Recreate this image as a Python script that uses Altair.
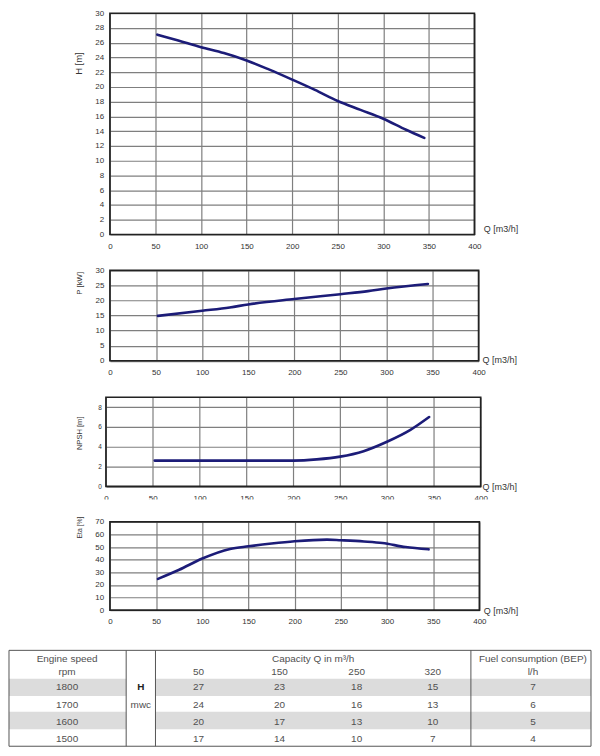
import altair as alt
import pandas as pd

# ---------------- data ----------------
Q_TICKS = [0, 50, 100, 150, 200, 250, 300, 350, 400]

H_Q = [52, 75, 100, 125, 150, 175, 200, 225, 250, 275, 300, 325, 345]
H_M = [27.1, 26.3, 25.4, 24.6, 23.6, 22.35, 21.0, 19.6, 18.1, 16.9, 15.7, 14.2, 13.1]

P_Q = [52, 100, 130, 150, 200, 250, 280, 300, 345]
P_KW = [14.9, 16.6, 17.7, 18.7, 20.5, 22.1, 23.1, 24.0, 25.5]

NPSH_Q = [52, 100, 150, 200, 225, 250, 275, 300, 325, 345]
NPSH_M = [2.6, 2.6, 2.6, 2.6, 2.72, 3.0, 3.55, 4.5, 5.7, 7.0]

ETA_Q = [52, 75, 100, 130, 150, 175, 200, 235, 250, 275, 295, 320, 345]
ETA_PCT = [24.8, 32.0, 40.9, 48.5, 50.6, 52.8, 54.6, 55.9, 55.4, 54.4, 53.2, 50.0, 48.2]

SPEEDS = [1800, 1700, 1600, 1500]
CAP_Q = [50, 150, 250, 320]
HEAD_MWC = [[27, 23, 18, 15], [24, 20, 16, 13], [20, 17, 13, 10], [17, 14, 10, 7]]
FUEL_LH = [7, 6, 5, 4]

# ---------------- styling / layout ----------------
W = 584
FONT = "Liberation Sans"
LINE_COLOR = "#1c1c78"
GRID = "#7f7f7f"
FRAME = "#222222"
TXT = "#333333"
LBL = 8

PANELS = [
    dict(q=H_Q, v=H_M, ymax=30, yticks=list(range(0, 31, 2)), title="H [m]",
         h=244, xr=[101.3, 467], yr=[226, 4], xlp=11.7, ylp=6.3, yls=LBL,
         ts=9.5, tx=-31.5, ty=54, qx=476, qy=-6, fill=False),
    dict(q=P_Q, v=P_KW, ymax=30, yticks=list(range(0, 31, 5)), title="P [kW]",
         h=132, xr=[101.3, 471.2], yr=[108.7, 18], xlp=11.8, ylp=6, yls=LBL,
         ts=7.8, tx=-30.3, ty=30.5, qx=474.7, qy=-1, fill=False),
    dict(q=NPSH_Q, v=NPSH_M, ymax=9, yticks=[0, 2, 4, 6, 8], title="NPSH [m]",
         h=116, xr=[97.3, 473.3], yr=[102.7, 13.3], xlp=12, ylp=4.6, yls=6.5,
         ts=7.6, tx=-26.3, ty=49, qx=474.7, qy=0, fill=False),
    dict(q=ETA_Q, v=ETA_PCT, ymax=70, yticks=list(range(0, 71, 10)), title="Eta [%]",
         h=140, xr=[101.3, 472], yr=[111, 22.3], xlp=11, ylp=6.4, yls=LBL,
         ts=6.8, tx=-30.5, ty=27.5, qx=476, qy=0.5, fill=True),
]


def curve_panel(c):
    df = pd.DataFrame({"Q": c["q"], "V": c["v"]})
    frame_df = pd.DataFrame({"x0": [0], "x1": [400], "y0": [0], "y1": [c["ymax"]]})
    xs = alt.Scale(domain=[0, 400], range=c["xr"], nice=False, zero=False)
    ys = alt.Scale(domain=[0, c["ymax"]], range=c["yr"], nice=False, zero=False)
    xoff = c["yr"][0] - c["h"]
    yoff = -c["xr"][0]
    # vertical grid lines (top-oriented axis, no labels)
    xgrid = alt.Axis(
        orient="top", values=Q_TICKS, grid=True, gridColor=GRID, gridWidth=1.2,
        domain=False, ticks=False, labels=False, title="",
    )
    # labelled bottom axis
    xaxis = alt.Axis(
        orient="bottom", values=Q_TICKS, grid=False, domain=False,
        ticks=False, tickSize=0, labelFlush=False, labelOverlap=False,
        labelPadding=c["xlp"], labelBaseline="middle", labelFont=FONT,
        labelFontSize=LBL, labelColor=TXT, offset=xoff,
        title="Q [m3/h]", titleX=c["qx"], titleY=c["qy"], titleAlign="left",
        titleBaseline="middle", titleAngle=0, titleFont=FONT, titleFontSize=9,
        titleFontWeight="normal", titleColor=TXT, titlePadding=0,
    )
    yaxis = alt.Axis(
        values=c["yticks"], grid=True, gridColor=GRID, gridWidth=1.2, domain=False,
        ticks=False, tickSize=0, labelFlush=False, labelOverlap=False,
        labelPadding=c["ylp"], labelAlign="right", labelBaseline="middle",
        labelFont=FONT, labelFontSize=c["yls"], labelColor=TXT, offset=yoff,
        title=c["title"], titleX=c["tx"], titleY=c["ty"], titleAngle=270,
        titleAlign="center", titleBaseline="middle", titleFont=FONT,
        titleFontSize=c["ts"], titleFontWeight="normal", titleColor=TXT,
        titlePadding=0,
    )
    frame = alt.Chart(frame_df).mark_rect(filled=False, stroke=FRAME, strokeWidth=1.7).encode(
        x=alt.X("x0:Q", scale=xs, axis=xgrid),
        x2="x1:Q",
        y=alt.Y("y0:Q", scale=ys, axis=yaxis),
        y2="y1:Q",
    )
    line = alt.Chart(df).mark_line(
        color=LINE_COLOR, strokeWidth=2.6, interpolate="monotone", strokeCap="round"
    ).encode(
        x=alt.X("Q:Q", scale=xs, axis=xaxis),
        y=alt.Y("V:Q", scale=ys, axis=yaxis),
    )
    props = dict(width=W, height=c["h"])
    if c["fill"]:
        props["view"] = alt.ViewBackground(fill="white", strokeWidth=0)
    return alt.layer(frame, line).resolve_axis(x="independent").properties(**props)


rows = [curve_panel(c) for c in PANELS]

# ---------------- table ----------------
T_TOP, T_BOT = 653.3, 755
COL_EDGES = [2, 122, 152, 475, 598]
RPM_X, UNIT_X, CAP_X, FUEL_X = 61.5, 137, 313.5, 538.5
Q_COL_X = [196, 279, 358, 436]
HEAD_Y1, HEAD_Y2 = 662.5, 676
ROW_Y = [692.5, 711, 729.5, 747]
GRAY_BANDS = [(683.3, 701.7), (718.5, 737)]

tx = alt.Scale(domain=[2, 598], range=[0, W], nice=False, zero=False)
ty = alt.Scale(domain=[653, 755], range=[11, 107.5], nice=False, zero=False)

band_recs = []
for (b0, b1) in GRAY_BANDS:
    band_recs.append({"x0": COL_EDGES[0], "x1": COL_EDGES[1], "y0": b0, "y1": b1})
    band_recs.append({"x0": COL_EDGES[2], "x1": COL_EDGES[4], "y0": b0, "y1": b1})
bands_df = pd.DataFrame(band_recs)
border_df = pd.DataFrame({"x0": [COL_EDGES[0]], "x1": [COL_EDGES[-1]], "y0": [T_TOP], "y1": [T_BOT]})
rules_df = pd.DataFrame({"x": COL_EDGES[1:4], "y0": [T_TOP] * 3, "y1": [T_BOT] * 3})

txt = []
txt += [{"x": RPM_X, "y": HEAD_Y1, "t": "Engine speed"}, {"x": RPM_X, "y": HEAD_Y2, "t": "rpm"}]
txt += [{"x": CAP_X, "y": HEAD_Y1, "t": "Capacity Q in m³/h"}]
txt += [{"x": Q_COL_X[j], "y": HEAD_Y2, "t": str(q)} for j, q in enumerate(CAP_Q)]
txt += [{"x": FUEL_X, "y": HEAD_Y1, "t": "Fuel consumption (BEP)"}, {"x": FUEL_X, "y": HEAD_Y2, "t": "l/h"}]
for i, s in enumerate(SPEEDS):
    txt.append({"x": RPM_X, "y": ROW_Y[i], "t": str(s)})
    for j, hv in enumerate(HEAD_MWC[i]):
        txt.append({"x": Q_COL_X[j], "y": ROW_Y[i], "t": str(hv)})
    txt.append({"x": FUEL_X, "y": ROW_Y[i], "t": str(FUEL_LH[i])})
txt.append({"x": UNIT_X, "y": ROW_Y[1], "t": "mwc"})
txt_df = pd.DataFrame(txt)
bold_df = pd.DataFrame([{"x": UNIT_X, "y": ROW_Y[0], "t": "H"}])

enc_rect = dict(
    x=alt.X("x0:Q", scale=tx, axis=None), x2="x1:Q",
    y=alt.Y("y0:Q", scale=ty, axis=None), y2="y1:Q",
)
bands = alt.Chart(bands_df).mark_rect(fill="#dcdcdc").encode(**enc_rect)
border = alt.Chart(border_df).mark_rect(filled=False, stroke="#555555", strokeWidth=1).encode(**enc_rect)
rules = alt.Chart(rules_df).mark_rule(color="#555555", strokeWidth=1).encode(
    x=alt.X("x:Q", scale=tx, axis=None),
    y=alt.Y("y0:Q", scale=ty, axis=None), y2="y1:Q",
)
texts = alt.Chart(txt_df).mark_text(
    font=FONT, fontSize=10, color="#505050", align="center", baseline="middle"
).encode(
    x=alt.X("x:Q", scale=tx, axis=None),
    y=alt.Y("y:Q", scale=ty, axis=None),
    text="t:N",
)
bold = alt.Chart(bold_df).mark_text(
    font=FONT, fontSize=10, color="#222222", fontWeight="bold", align="center", baseline="middle"
).encode(
    x=alt.X("x:Q", scale=tx, axis=None),
    y=alt.Y("y:Q", scale=ty, axis=None),
    text="t:N",
)
table = alt.layer(bands, border, rules, texts, bold).properties(width=W, height=108)

chart = (
    alt.vconcat(*rows, table, spacing=0, bounds="flush")
    .properties(padding=0, background="white")
    .configure_view(strokeWidth=0)
)

chart.save("out.html", embed_options={"renderer": "svg", "actions": False})
